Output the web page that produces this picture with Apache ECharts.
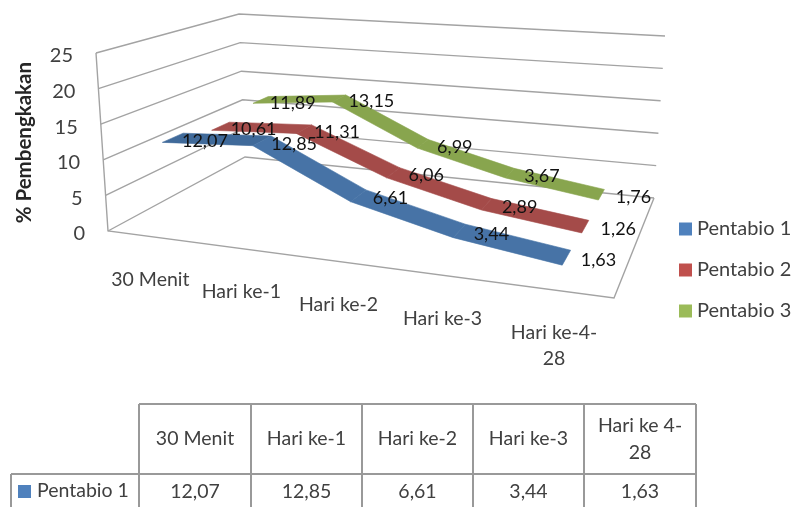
<!DOCTYPE html>
<html><head><meta charset="utf-8">
<style>html,body{margin:0;padding:0;background:#fff}#c{width:794px;height:507px}</style>
<script src="https://cdn.jsdelivr.net/npm/echarts@6/dist/echarts.min.js"></script>
</head><body><div id="c"></div>
<script>
const categories = ['30 Menit','Hari ke-1','Hari ke-2','Hari ke-3','Hari ke-4-\n28'];
const tableHeads = ['30 Menit','Hari ke-1','Hari ke-2','Hari ke-3','Hari ke 4-\n28'];
const seriesNames = ['Pentabio 1','Pentabio 2','Pentabio 3'];
const pentabio1 = [12.07,12.85,6.61,3.44,1.63];
const pentabio2 = [10.61,11.31,6.06,2.89,1.26];
const pentabio3 = [11.89,13.15,6.99,3.67,1.76];
const tickValues = [0,5,10,15,20,25];
const legendColors = ['#4F81BD','#C0504D','#9BBB59'];
const ribbonColors = ['#4773A6','#A44B49','#88A54E'];
const flatColors = ['#406A9A','#A54D4B','#8BA650'];
const allSeries = [pentabio1,pentabio2,pentabio3];
const FONT = 'Lato';
const TEXT = '#404040';
const fmt = v => v.toFixed(2).replace('.',',');

// picture-space frame of the 3D box: floor and ceiling corners
function squareToQuad(q){
  const [p0,p1,p2,p3]=q;
  const dx1=p1[0]-p2[0],dx2=p3[0]-p2[0],sx=p0[0]-p1[0]+p2[0]-p3[0];
  const dy1=p1[1]-p2[1],dy2=p3[1]-p2[1],sy=p0[1]-p1[1]+p2[1]-p3[1];
  const den=dx1*dy2-dx2*dy1;
  const g=(sx*dy2-dx2*sy)/den,h=(dx1*sy-sx*dy1)/den;
  const a=p1[0]-p0[0]+g*p1[0],b=p3[0]-p0[0]+h*p3[0],c=p0[0];
  const d=p1[1]-p0[1]+g*p1[1],e=p3[1]-p0[1]+h*p3[1],f=p0[1];
  return (u,w)=>{const n=g*u+h*w+1;return [(a*u+b*w+c)/n,(d*u+e*w+f)/n];};
}
const floorH=squareToQuad([[108,231],[614,298],[654,198],[245,157]]);
const ceilH=squareToQuad([[96,53],[626,90],[665,36],[239,14]]);
function project(u,w,t){const a=floorH(u,w),b=ceilH(u,w);return [a[0]+(b[0]-a[0])*t,a[1]+(b[1]-a[1])*t];}
function frac(api,params,i,v){ // axis scales -> 0..1 fractions
  const c=api.coord([i,v]),r=params.coordSys;
  return [(c[0]-r.x)/r.width,(r.y+r.height-c[1])/r.height];
}
const RIBBON=0.135;
const depthOf=s=>(s+0.5)/3;

function ribbonSeries(s){
  const vals=allSeries[s];
  const rows=[];
  for(let i=0;i<vals.length-1;i++) rows.push([i,vals[i],i+1,vals[i+1]]);
  return {type:'custom',name:seriesNames[s],z:5+(2-s),coordinateSystem:'cartesian2d',silent:true,clip:false,
    itemStyle:{color:legendColors[s]},encode:{x:0,y:1},data:rows,
    renderItem(params,api){
      const a=frac(api,params,api.value(0),api.value(1)),b=frac(api,params,api.value(2),api.value(3));
      const w0=depthOf(s)-RIBBON/2,w1=depthOf(s)+RIBBON/2;
      const col=params.dataIndex===0?flatColors[s]:ribbonColors[s];
      return {type:'polygon',shape:{points:[project(a[0],w0,a[1]),project(a[0],w1,a[1]),project(b[0],w1,b[1]),project(b[0],w0,b[1])]},
        style:{fill:col,stroke:col,lineWidth:0.6}};
    }};
}
const labelOffsets=[[32,3],[33,3],[32,3]];
function labelSeries(s){
  const vals=allSeries[s];
  return {type:'custom',z:20,coordinateSystem:'cartesian2d',silent:true,clip:false,encode:{x:0,y:1},
    data:vals.map((v,i)=>[i,v]),
    renderItem(params,api){
      const a=frac(api,params,api.value(0),api.value(1));
      const p=project(a[0],depthOf(s),a[1]);
      return {type:'text',style:{x:p[0]+labelOffsets[s][0],y:p[1]+labelOffsets[s][1],text:fmt(api.value(1)),align:'center',verticalAlign:'middle',fill:'#111',fontFamily:FONT,fontSize:18}};
    }};
}
const frameSeries={type:'custom',z:2,coordinateSystem:'cartesian2d',silent:true,clip:false,encode:{x:0,y:1},
  data:tickValues.map(v=>[0,v]),
  renderItem(params,api){
    const t=frac(api,params,0,api.value(1))[1];
    const line={stroke:'#a3a3a3',lineWidth:1.4,fill:null};
    const children=[{type:'polyline',shape:{points:[project(0,0,t),project(0,1,t),project(1,1,t)]},style:line}];
    if(t===0) children.push({type:'polyline',shape:{points:[project(0,0,1),project(0,0,0),project(1,0,0),project(1,1,0)]},style:line});
    const p=project(0,0,t);
    children.push({type:'text',style:{x:p[0]-23,y:p[1]+3,text:String(api.value(1)),align:'right',verticalAlign:'middle',fill:TEXT,fontFamily:FONT,fontSize:20}});
    return {type:'group',children};
  }};
const catSeries={type:'custom',z:2,coordinateSystem:'cartesian2d',silent:true,clip:false,encode:{x:0,y:1},
  data:categories.map((c,i)=>[i,0]),
  renderItem(params,api){
    const a=frac(api,params,api.value(0),0);
    const p=project(a[0],0,0);
    return {type:'text',style:{x:p[0]-1,y:p[1]+30,text:categories[params.dataIndex],align:'center',verticalAlign:'top',lineHeight:26,fill:TEXT,fontFamily:FONT,fontSize:19.5}};
  }};

// table under the plot
const colX=[139,251,362,473,584,696];
const rowY=[404,474];
const tg=[];
const tl={stroke:'#999',lineWidth:2};
const seg=(x1,y1,x2,y2)=>tg.push({type:'line',shape:{x1,y1,x2,y2},style:tl});
seg(colX[0],rowY[0],colX[5],rowY[0]);
seg(11,rowY[1],colX[5],rowY[1]);
colX.forEach(x=>seg(x,rowY[0],x,510));
seg(11,rowY[1],11,510);
const txt=(x,y,text,align,lh)=>tg.push({type:'text',style:{x,y,text,textAlign:align,textVerticalAlign:'middle',fill:TEXT,fontFamily:FONT,fontSize:19.5,lineHeight:lh||27}});
tableHeads.forEach((h,i)=>txt((colX[i]+colX[i+1])/2,439,h,'center'));
pentabio1.forEach((v,i)=>txt((colX[i]+colX[i+1])/2,492,fmt(v),'center'));
txt(37,491,seriesNames[0],'left');
tg.push({type:'rect',shape:{x:18,y:485,width:13,height:13},style:{fill:legendColors[0]}});

const chart=echarts.init(document.getElementById('c'),null,{renderer:'canvas'});
chart.setOption({
  animation:false,backgroundColor:'#fff',
  grid:{left:0,right:0,top:0,bottom:0,containLabel:false},
  xAxis:{type:'category',data:categories,show:false},
  yAxis:{type:'value',min:0,max:25,interval:5,show:false},
  legend:{data:seriesNames,orient:'vertical',left:679,top:219,padding:0,itemWidth:13,itemHeight:13,itemGap:21,icon:'rect',
    textStyle:{fontFamily:FONT,fontSize:20,color:TEXT}},
  graphic:[{type:'text',left:14,top:62,rotation:Math.PI/2,style:{text:'% Pembengkakan',fontFamily:FONT,fontWeight:'bold',fontSize:20.5,fill:'#262626'},silent:true}].concat(tg),
  series:[frameSeries,catSeries,ribbonSeries(0),ribbonSeries(1),ribbonSeries(2),labelSeries(0),labelSeries(1),labelSeries(2)]
});
</script></body></html>
